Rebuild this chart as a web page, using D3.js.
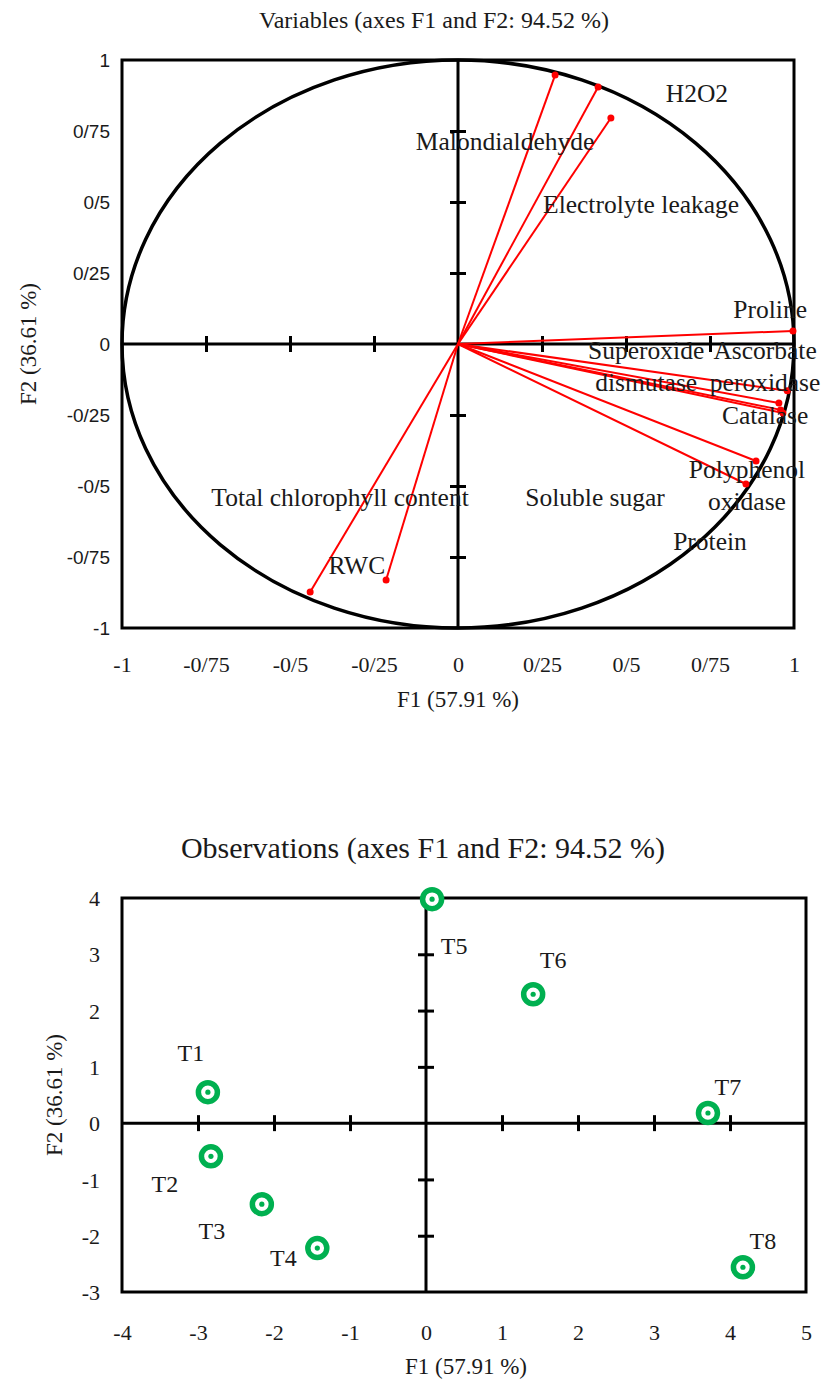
<!DOCTYPE html>
<html>
<head>
<meta charset="utf-8">
<script src="https://cdn.jsdelivr.net/npm/d3@7"></script>
<style>
  body { margin: 0; background: #fff; }
  text { font-family: "Liberation Serif", serif; fill: #1a1a1a; }
</style>
</head>
<body>
<div id="chart"></div>
<script>
// ---- data ----
var varNames = ["Malondialdehyde", "H2O2", "Electrolyte leakage", "Proline",
                "Superoxide dismutase", "Ascorbate peroxidase", "Catalase", "Soluble sugar",
                "Polyphenol oxidase", "Protein", "Total chlorophyll content", "RWC"];
var varF1 = [0.289, 0.417, 0.455, 0.997, 0.980, 0.955, 0.967, 0.960, 0.887, 0.857, -0.440, -0.214];
var varF2 = [0.947, 0.905, 0.796, 0.046, -0.165, -0.208, -0.243, -0.232, -0.412, -0.493, -0.873, -0.831];

var obsNames = ["T1", "T2", "T3", "T4", "T5", "T6", "T7", "T8"];
var obsF1 = [-2.87, -2.83, -2.16, -1.43, 0.08, 1.41, 3.71, 4.17];
var obsF2 = [0.55, -0.59, -1.44, -2.22, 3.98, 2.29, 0.18, -2.56];

var varTicks = [-1, -0.75, -0.5, -0.25, 0, 0.25, 0.5, 0.75, 1];
var varTickLabels = ["-1", "-0/75", "-0/5", "-0/25", "0", "0/25", "0/5", "0/75", "1"];
var obsXTicks = [-4, -3, -2, -1, 0, 1, 2, 3, 4, 5];
var obsYTicks = [-3, -2, -1, 0, 1, 2, 3, 4];

// ---- label layout (where the names sit, not data) ----
// variable labels: anchor in F1/F2 units, text lines
var varLabelAt = [[0.140, 0.683], [0.711, 0.852], [0.545, 0.461], [0.929, 0.092],
                  [0.560, -0.053], [0.914, -0.053], [0.914, -0.282], [0.408, -0.570],
                  [0.860, -0.472], [0.750, -0.725], [-0.351, -0.570], [-0.301, -0.810]];
var varLabelLines = [["Malondialdehyde"], ["H2O2"], ["Electrolyte leakage"], ["Proline"],
                     ["Superoxide", "dismutase"], ["Ascorbate", "peroxidase"], ["Catalase"], ["Soluble sugar"],
                     ["Polyphenol", "oxidase"], ["Protein"], ["Total chlorophyll  content"], ["RWC"]];
// observation labels: pixel offset from the point
var obsLabelOff = [[-17, -31], [-46, 36], [-50, 35], [-34, 18], [22, 55], [20, -26], [20, -18], [20, -18]];

function init() {
  var w = 822, h = 1383;
  var svg = d3.select("#chart").append("svg")
              .attr("width", w)
              .attr("height", h);

  // ================= top : variables =================
  var x1 = d3.scaleLinear().domain([-1, 1]).range([122, 794]);
  var y1 = d3.scaleLinear().domain([-1, 1]).range([628, 60]);
  var top = svg.append("g");

  top.append("text")
     .attr("x", 434).attr("y", 28)
     .attr("text-anchor", "middle")
     .style("font-size", "24px")
     .text("Variables (axes F1 and F2: 94.52 %)");

  top.append("rect")
     .attr("x", x1(-1)).attr("y", y1(1))
     .attr("width", x1(1) - x1(-1)).attr("height", y1(-1) - y1(1))
     .attr("fill", "none").attr("stroke", "#000").attr("stroke-width", 3);

  top.append("ellipse")
     .attr("cx", x1(0)).attr("cy", y1(0))
     .attr("rx", x1(1) - x1(0)).attr("ry", y1(0) - y1(1))
     .attr("fill", "none").attr("stroke", "#000").attr("stroke-width", 3.5);

  // zero lines
  top.append("line")
     .attr("x1", x1(-1)).attr("x2", x1(1)).attr("y1", y1(0)).attr("y2", y1(0))
     .attr("stroke", "#000").attr("stroke-width", 3);
  top.append("line")
     .attr("x1", x1(0)).attr("x2", x1(0)).attr("y1", y1(-1)).attr("y2", y1(1))
     .attr("stroke", "#000").attr("stroke-width", 3);

  // crossing tick marks on the zero lines
  var inner = varTicks.filter(function(d){ return d != 0 && Math.abs(d) != 1; });
  var tx = top.append("g")
              .attr("transform", "translate(0," + (y1(0) + 8) + ")")
              .call(d3.axisTop(x1).tickValues(inner).tickSize(16).tickFormat(""));
  var ty = top.append("g")
              .attr("transform", "translate(" + (x1(0) - 8) + ",0)")
              .call(d3.axisRight(y1).tickValues(inner).tickSize(16).tickFormat(""));
  [tx, ty].forEach(function(g){
    g.select(".domain").remove();
    g.selectAll("line").attr("stroke", "#000").attr("stroke-width", 3);
  });

  // tick labels
  var lx = top.append("g")
              .attr("transform", "translate(0," + y1(-1) + ")")
              .call(d3.axisBottom(x1).tickValues(varTicks).tickSize(0)
                      .tickFormat(function(d, i){ return varTickLabels[i]; }));
  lx.select(".domain").remove();
  lx.selectAll("text").attr("y", 44).attr("dy", null)
    .style("font-family", "'Liberation Serif', serif").style("font-size", "22px").attr("fill", "#1a1a1a");

  var ly = top.append("g")
              .attr("transform", "translate(" + x1(-1) + ",0)")
              .call(d3.axisLeft(y1).tickValues(varTicks).tickSize(0)
                      .tickFormat(function(d, i){ return varTickLabels[i]; }));
  ly.select(".domain").remove();
  ly.selectAll("text").attr("x", -12).attr("dy", "0.35em")
    .style("font-family", "'Liberation Sans', sans-serif").style("font-size", "19px").attr("fill", "#1a1a1a");

  top.append("text")
     .attr("x", x1(0)).attr("y", 707)
     .attr("text-anchor", "middle").style("font-size", "23px")
     .text("F1 (57.91 %)");
  top.append("text")
     .attr("transform", "translate(36," + y1(0) + ") rotate(-90)")
     .attr("text-anchor", "middle").style("font-size", "23px")
     .text("F2 (36.61 %)");

  // vectors
  var vec = top.selectAll("g.vec")
               .data(varNames)
               .enter()
               .append("g")
               .attr("class", "vec");
  vec.append("line")
     .attr("x1", x1(0)).attr("y1", y1(0))
     .attr("x2", function(d, i){ return x1(varF1[i]); })
     .attr("y2", function(d, i){ return y1(varF2[i]); })
     .attr("stroke", "#ff0000").attr("stroke-width", 2);
  vec.append("circle")
     .attr("cx", function(d, i){ return x1(varF1[i]); })
     .attr("cy", function(d, i){ return y1(varF2[i]); })
     .attr("r", 3.5)
     .attr("fill", "#ff0000");

  var vl = top.selectAll("text.vlab")
              .data(varNames)
              .enter()
              .append("text")
              .attr("class", "vlab")
              .attr("text-anchor", "middle")
              .style("font-size", "25.5px")
              .attr("x", function(d, i){ return x1(varLabelAt[i][0]); })
              .attr("y", function(d, i){ return y1(varLabelAt[i][1]); });
  vl.each(function(d, i){
    var t = d3.select(this);
    varLabelLines[i].forEach(function(s, k){
      t.append("tspan")
       .attr("x", x1(varLabelAt[i][0]))
       .attr("dy", k == 0 ? 0 : 32)
       .text(s);
    });
  });

  // ================= bottom : observations =================
  var x2 = d3.scaleLinear().domain([-4, 5]).range([122, 806]);
  var y2 = d3.scaleLinear().domain([-3, 4]).range([1292, 898]);
  var bot = svg.append("g");

  bot.append("text")
     .attr("x", 423).attr("y", 858)
     .attr("text-anchor", "middle")
     .style("font-size", "30px")
     .text("Observations (axes F1 and F2: 94.52 %)");

  bot.append("rect")
     .attr("x", x2(-4)).attr("y", y2(4))
     .attr("width", x2(5) - x2(-4)).attr("height", y2(-3) - y2(4))
     .attr("fill", "none").attr("stroke", "#000").attr("stroke-width", 3);

  bot.append("line")
     .attr("x1", x2(-4)).attr("x2", x2(5)).attr("y1", y2(0)).attr("y2", y2(0))
     .attr("stroke", "#000").attr("stroke-width", 3);
  bot.append("line")
     .attr("x1", x2(0)).attr("x2", x2(0)).attr("y1", y2(-3)).attr("y2", y2(4))
     .attr("stroke", "#000").attr("stroke-width", 3);

  var bx = bot.append("g")
              .attr("transform", "translate(0," + (y2(0) + 8) + ")")
              .call(d3.axisTop(x2).tickValues(obsXTicks.filter(function(d){ return d != 0 && d != -4 && d != 5; }))
                      .tickSize(16).tickFormat(""));
  var by = bot.append("g")
              .attr("transform", "translate(" + (x2(0) - 8) + ",0)")
              .call(d3.axisRight(y2).tickValues(obsYTicks.filter(function(d){ return d != 0 && d != -3 && d != 4; }))
                      .tickSize(16).tickFormat(""));
  [bx, by].forEach(function(g){
    g.select(".domain").remove();
    g.selectAll("line").attr("stroke", "#000").attr("stroke-width", 3);
  });

  var blx = bot.append("g")
               .attr("transform", "translate(0," + y2(-3) + ")")
               .call(d3.axisBottom(x2).tickValues(obsXTicks).tickSize(0)
                       .tickFormat(function(d){ return String(d); }));
  blx.select(".domain").remove();
  blx.selectAll("text").attr("y", 48).attr("dy", null)
     .style("font-family", "'Liberation Serif', serif").style("font-size", "22px").attr("fill", "#1a1a1a");

  var bly = bot.append("g")
               .attr("transform", "translate(" + x2(-4) + ",0)")
               .call(d3.axisLeft(y2).tickValues(obsYTicks).tickSize(0)
                       .tickFormat(function(d){ return String(d); }));
  bly.select(".domain").remove();
  bly.selectAll("text").attr("x", -22).attr("dy", "0.35em")
     .style("font-family", "'Liberation Serif', serif").style("font-size", "22px").attr("fill", "#1a1a1a");

  bot.append("text")
     .attr("x", 466).attr("y", 1374)
     .attr("text-anchor", "middle").style("font-size", "23px")
     .text("F1 (57.91 %)");
  bot.append("text")
     .attr("transform", "translate(62," + (y2(-3) + y2(4)) / 2 + ") rotate(-90)")
     .attr("text-anchor", "middle").style("font-size", "23px")
     .text("F2 (36.61 %)");

  var pts = bot.selectAll("g.obs")
               .data(obsNames)
               .enter()
               .append("g")
               .attr("class", "obs")
               .attr("transform", function(d, i){
                 return "translate(" + x2(obsF1[i]) + "," + y2(obsF2[i]) + ")";
               });
  pts.append("circle")
     .attr("r", 9.5)
     .attr("fill", "#fff")
     .attr("stroke", "#00b050")
     .attr("stroke-width", 5.5);
  pts.append("circle")
     .attr("r", 2.6)
     .attr("fill", "#00b050");
  pts.append("text")
     .attr("x", function(d, i){ return obsLabelOff[i][0]; })
     .attr("y", function(d, i){ return obsLabelOff[i][1]; })
     .attr("text-anchor", "middle")
     .style("font-size", "24px")
     .text(function(d){ return d; });
}

window.onload = init;
</script>
</body>
</html>
